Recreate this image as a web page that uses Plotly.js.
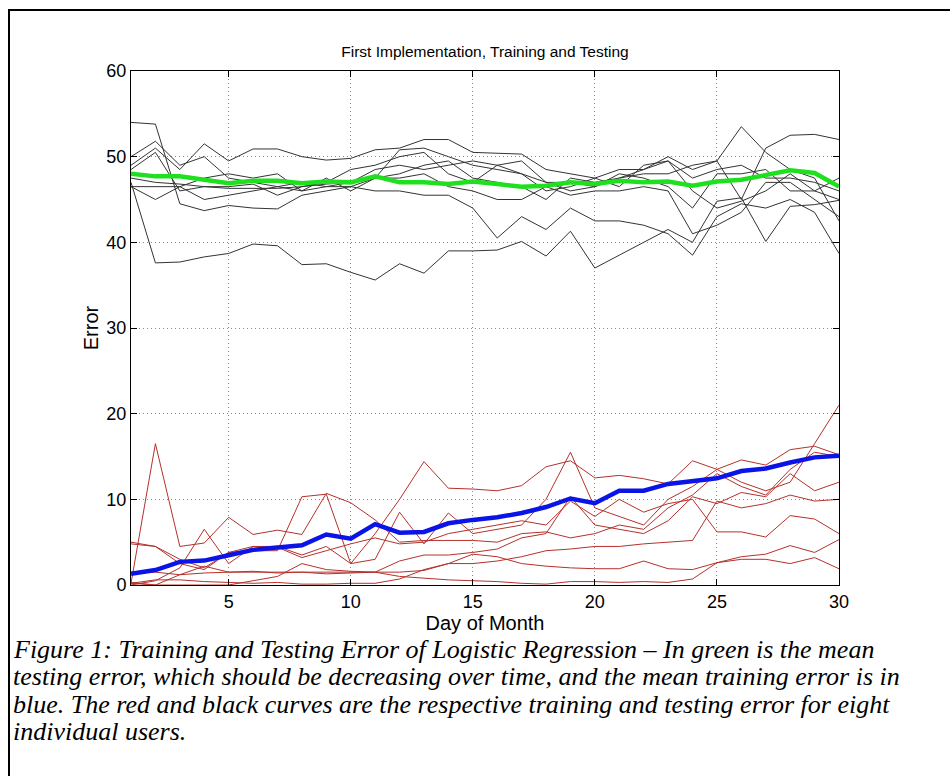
<!DOCTYPE html>
<html>
<head>
<meta charset="utf-8">
<script src="https://cdn.plot.ly/plotly-3.0.1.min.js"></script>
<style>
html,body{margin:0;padding:0;background:#fff;}
#chart{width:950px;height:776px;}
</style>
</head>
<body>
<div id="chart"></div>
<script>
const days = Array.from({length:30},(_,i)=>i+1);

// Testing error, eight individual users (black)
const test1 = [54.0,53.8,44.5,43.7,44.3,44.0,43.9,45.5,46.0,46.5,47.5,48.0,49.0,49.5,47.5,47.0,46.5,45.0,47.5,47.0,47.5,48.5,49.5,46.0,44.0,44.8,46.0,48.0,46.0,45.0];
const test2 = [47.0,37.6,37.7,38.3,38.7,39.8,39.6,37.4,37.5,36.5,35.6,37.5,36.4,39.0,39.0,39.1,40.1,38.4,41.3,37.0,38.5,40.0,41.5,40.0,44.8,45.2,40.1,44.2,44.4,44.9];
const test3 = [50.0,51.8,49.0,50.0,47.5,47.0,46.5,47.0,46.5,47.0,47.5,50.8,51.0,50.0,49.0,48.5,48.0,47.0,47.0,46.5,47.5,48.0,48.0,49.0,49.5,53.5,50.5,48.5,47.5,42.5];
const test4 = [49.0,51.0,48.5,51.5,49.5,50.9,50.9,50.0,49.6,49.8,50.8,51.0,52.0,52.0,50.5,50.4,50.3,48.5,48.0,47.5,48.5,48.5,50.0,48.5,49.5,45.0,51.0,52.5,52.6,52.0];
const test5 = [46.5,46.5,46.5,47.5,48.0,47.5,48.0,46.0,47.5,46.0,47.5,47.5,48.0,46.5,46.0,45.0,45.0,46.5,45.5,46.0,46.0,46.5,46.0,41.0,42.0,43.5,47.0,47.0,45.0,43.0];
const test6 = [46.5,45.0,46.5,45.0,45.5,46.0,46.5,46.0,46.5,46.5,46.0,46.0,45.5,45.5,44.0,40.5,43.0,41.5,44.0,42.5,42.5,42.0,41.0,38.5,43.0,44.5,44.0,45.0,43.5,38.7];
const test7 = [48.5,50.5,46.0,46.5,46.5,46.8,45.5,46.5,47.0,48.5,49.0,50.0,50.5,48.0,47.0,49.0,49.5,47.0,46.0,46.5,48.0,47.5,46.5,44.0,48.0,48.0,48.5,46.0,46.0,47.5];
const test8 = [47.5,47.0,46.8,46.5,46.3,46.3,46.3,46.5,46.8,47.0,48.5,49.0,48.5,49.0,49.5,49.0,48.0,46.0,46.5,47.5,46.5,49.0,49.5,47.5,48.5,49.0,47.5,47.5,47.0,46.0];

// Training error, eight individual users (red)
const train1 = [0.2,16.5,4.5,4.9,7.9,5.9,6.4,5.9,10.7,9.6,7.6,5.0,5.2,5.2,5.2,5.0,6.0,6.2,5.5,6.0,7.0,6.5,9.0,10.5,13.0,11.5,10.5,13.5,15.5,15.0];
const train2 = [5.0,4.5,3.0,2.0,3.8,4.0,4.0,10.3,10.6,2.5,6.0,10.0,14.4,11.3,11.2,11.0,11.6,13.8,14.5,12.5,12.8,12.4,11.8,14.5,13.5,14.6,14.0,15.8,16.2,15.2];
const train3 = [0.0,0.5,2.0,6.5,2.5,4.5,4.5,3.5,4.5,2.5,3.0,8.5,4.8,8.4,6.0,6.5,7.0,10.0,15.5,9.0,8.0,7.0,10.0,11.5,13.5,12.0,11.0,12.0,16.5,21.0];
const train4 = [0.3,0.0,1.2,2.2,1.5,1.5,1.5,1.5,1.5,1.5,1.5,2.8,3.5,3.5,3.8,4.2,5.5,6.0,10.3,7.0,6.5,6.0,7.5,10.3,9.5,10.8,10.3,13.0,11.0,12.0];
const train5 = [0.2,0.6,0.6,0.4,0.3,0.2,0.3,0.1,0.1,0.2,0.2,0.7,1.8,2.5,2.5,2.8,3.3,4.0,4.2,4.5,4.5,4.8,5.0,5.2,9.8,9.0,9.5,10.5,9.8,10.0];
const train6 = [1.5,1.5,1.2,1.4,1.5,1.6,1.4,1.5,1.3,1.4,1.5,1.5,1.7,2.5,3.6,3.3,2.5,2.2,2.0,1.9,1.9,2.8,1.9,1.8,2.6,3.0,3.0,2.5,3.2,1.9];
const train7 = [0.2,0.0,0.0,0.0,0.0,0.5,1.0,2.5,1.8,1.6,1.5,1.0,0.8,0.6,0.5,0.4,0.2,0.1,0.4,0.4,0.3,0.4,0.3,0.7,2.6,3.3,3.6,4.6,3.8,5.3];
const train8 = [4.8,4.5,2.5,1.8,3.8,4.5,4.4,3.2,4.0,4.8,5.5,4.8,5.0,6.0,6.5,7.0,7.5,7.0,9.8,8.0,10.0,8.5,9.5,10.0,6.2,6.2,5.6,8.1,7.7,6.0];

// Means
const meanTest  = [48.0,47.7,47.7,47.3,46.9,47.2,47.2,46.9,47.1,47.0,47.7,47.0,47.0,46.8,47.1,46.8,46.5,46.6,47.0,46.8,47.2,47.0,47.1,46.6,47.1,47.3,47.8,48.4,48.1,46.5];
const meanTrain = [1.3,1.75,2.7,2.85,3.47,4.1,4.37,4.63,5.9,5.4,7.1,6.1,6.2,7.2,7.6,7.9,8.4,9.1,10.1,9.55,11.0,11.0,11.8,12.1,12.45,13.3,13.6,14.3,14.9,15.1];

const xTicks = [5,10,15,20,25,30];
const yTicks = [0,10,20,30,40,50,60];

const captionLines = [
  "Figure 1: Training and Testing Error of Logistic Regression \u2013 In green is the mean",
  "testing error, which should be decreasing over time, and the mean training error is in",
  "blue. The red and black curves are the respective training and testing error for eight",
  "individual users."
];

const tests = [test1,test2,test3,test4,test5,test6,test7,test8];
const trains = [train1,train2,train3,train4,train5,train6,train7,train8];

const traces = [];
tests.forEach((s,i)=>traces.push({x:days,y:s,type:'scatter',mode:'lines',name:'Test user '+(i+1),
  line:{color:'#333333',width:1}}));
trains.forEach((s,i)=>traces.push({x:days,y:s,type:'scatter',mode:'lines',name:'Train user '+(i+1),
  line:{color:'#b5312c',width:1}}));
traces.push({x:days,y:meanTest,type:'scatter',mode:'lines',name:'Mean testing error',line:{color:'#1fe01f',width:4.5}});
traces.push({x:days,y:meanTrain,type:'scatter',mode:'lines',name:'Mean training error',line:{color:'#0a14e6',width:4.5}});

// plot area: left 131, right 839, top 71, bottom 585
const L=131, R=839, T=71, B=585;
const W=950, H=776;
const px = v => (v-L)/(R-L);
const py = v => (B-v)/(B-T);

const annotations = captionLines.map((t,i)=>({
  text:t, xref:'paper', yref:'paper', x:px(11), y:py(649+i*27.5),
  xanchor:'left', yanchor:'middle', showarrow:false,
  font:{family:'"Liberation Serif","Times New Roman",serif', size:26, color:'#000', style:'italic'}
}));

const sans = '"Liberation Sans",Arial,sans-serif';

const layout = {
  width:W, height:H,
  margin:{l:L, r:W-R, t:T, b:H-B, pad:0},
  paper_bgcolor:'#fff', plot_bgcolor:'#fff',
  showlegend:false,
  title:{text:'First Implementation, Training and Testing', x:0.5, xref:'paper', xanchor:'center',
    y:1-52/H, yanchor:'middle', font:{family:sans, size:15.5, color:'#000'}},
  xaxis:{range:[1,30], tickvals:xTicks, ticktext:xTicks.map(String),
    ticks:'inside', ticklen:6, tickcolor:'#000', showline:true, linecolor:'#000', linewidth:1, mirror:'ticks',
    showgrid:true, gridcolor:'#8a8a8a', griddash:'1px,3px', gridwidth:1, zeroline:false,
    tickfont:{family:sans, size:18, color:'#000'},
    title:{text:'Day of Month', standoff:0, font:{family:sans, size:20, color:'#000'}}},
  yaxis:{range:[0,60], tickvals:yTicks, ticktext:yTicks.map(String),
    ticks:'inside', ticklen:6, tickcolor:'#000', showline:true, linecolor:'#000', linewidth:1, mirror:'ticks',
    showgrid:true, gridcolor:'#8a8a8a', griddash:'1px,3px', gridwidth:1, zeroline:false,
    tickfont:{family:sans, size:18, color:'#000'},
    title:{text:'Error', standoff:2, font:{family:sans, size:20, color:'#000'}}},
  shapes:[{type:'rect', xref:'paper', yref:'paper', x0:px(9), x1:px(1000), y0:py(10), y1:py(900),
    line:{color:'#000', width:2}, fillcolor:'rgba(0,0,0,0)', layer:'above'}],
  annotations:annotations
};

Plotly.newPlot('chart', traces, layout, {displayModeBar:false, staticPlot:true});
</script>
</body>
</html>
